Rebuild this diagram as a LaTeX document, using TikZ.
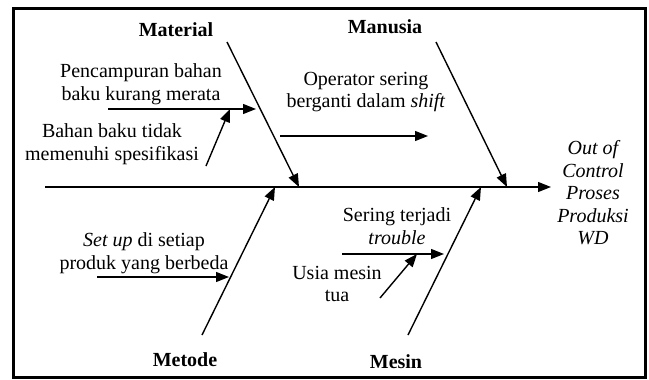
\documentclass[tikz,border=0pt]{standalone}
\usepackage{fontspec}
\setmainfont{Liberation Serif}
\usetikzlibrary{arrows.meta}
\begin{document}
\begin{tikzpicture}[x=1pt,y=-1pt,
  bone/.style={line width=1.4pt,-{Triangle[length=13pt,width=10pt]}},
  txt/.style={align=center,inner sep=0pt,font=\fontsize{20}{22.5}\selectfont},
  head/.style={inner sep=0pt,font=\fontsize{20}{22.5}\selectfont\bfseries}]
\useasboundingbox (0,0) rectangle (649,380);
\draw[line width=3pt] (13.5,8.5) rectangle (645,377.5);
% spine
\coordinate (sp0) at (45,187);
\coordinate (sp1) at (551,187);
\draw[bone] (sp0) -- (sp1);
% main bones
\coordinate (mat0) at (227,42);  \coordinate (mat1) at (299,187);
\coordinate (man0) at (436,42);  \coordinate (man1) at (507,187);
\coordinate (met0) at (202,335); \coordinate (met1) at (275,187);
\coordinate (mes0) at (408,335); \coordinate (mes1) at (481,187);
\draw[bone] (mat0) -- (mat1);
\draw[bone] (man0) -- (man1);
\draw[bone] (met0) -- (met1);
\draw[bone] (mes0) -- (mes1);
% headings
\node[head] (hmat) at (176,30) {Material};
\node[head] (hman) at (385,27) {Manusia};
\node[head] (hmet) at (185,360) {Metode};
\node[head] (hmes) at (396,362) {Mesin};
% effect
\node[txt,font=\fontsize{20}{22.5}\selectfont\itshape] (eff) at (593,193) {Out of\\Control\\Proses\\Produksi\\WD};
% sub causes
\node[txt] (tpen) at (141,84) {Pencampuran bahan\\baku kurang merata};
\coordinate (pen0) at (108,109); \coordinate (pen1) at (256,109);
\draw[bone] (pen0) -- (pen1);
\node[txt] (tbah) at (112,144) {Bahan baku tidak\\memenuhi spesifikasi};
\coordinate (bah0) at (206,166); \coordinate (bah1) at (230,109);
\draw[bone] (bah0) -- (bah1);
\node[txt] (tope) at (366,92) {Operator sering\\berganti dalam \textit{shift}};
\coordinate (ope0) at (280,136); \coordinate (ope1) at (428,136);
\draw[bone] (ope0) -- (ope1);
\node[txt] (tset) at (144,253) {\textit{Set up} di setiap\\produk yang berbeda};
\coordinate (set0) at (97,277); \coordinate (set1) at (229,277);
\draw[bone] (set0) -- (set1);
\node[txt] (tser) at (397,226) {Sering terjadi\\\textit{trouble}};
\coordinate (ser0) at (342,254); \coordinate (ser1) at (444,254);
\draw[bone] (ser0) -- (ser1);
\node[txt] (tusi) at (337,284) {Usia mesin\\tua};
\coordinate (usi0) at (380,298); \coordinate (usi1) at (417,254);
\draw[bone] (usi0) -- (usi1);
\end{tikzpicture}
\end{document}
